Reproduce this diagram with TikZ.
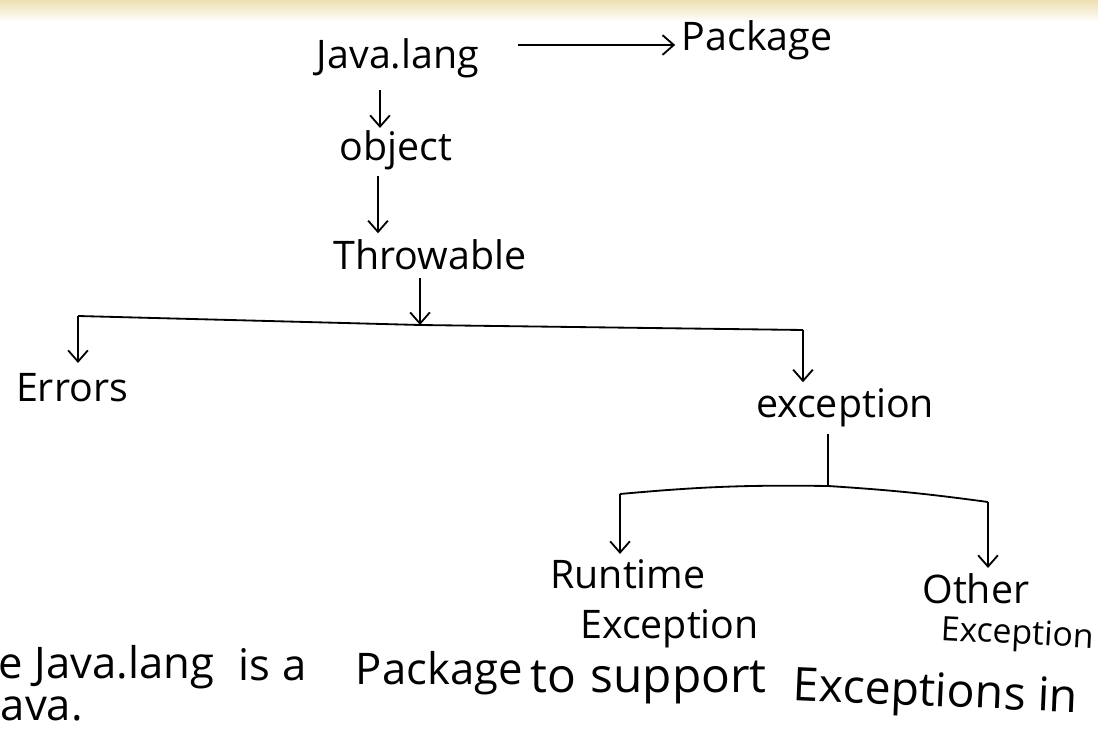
\documentclass[tikz,border=0pt]{standalone}
\usepackage{fontspec}
\setmainfont{Open Sans}
\usetikzlibrary{arrows.meta}

\tikzset{
  hand/.style={font=\fontsize{28}{34}\selectfont, inner sep=1pt},
  note/.style={font=\fontsize{31}{36}\selectfont, inner sep=0pt, anchor=base west},
  down/.style={-{Straight Barb[length=8pt,width=14pt]}},
}

\begin{document}
\begin{tikzpicture}[x=0.025cm, y=-0.025cm, line width=1.3pt]
\useasboundingbox (0,0) rectangle (1098,734);
% paper edge
\shade[top color={rgb,255:red,238;green,224;blue,178}, bottom color=white, draw=none] (0,0) rectangle (1098,22);

% top of the tree
\node[hand] (lang) at (398,58) {Java.lang};
\node[hand] (pkg) at (757,40) {Package};
\node[hand] (obj) at (396,150) {object};
\node[hand] (thr) at (430,255) {Throwable};

\draw[down, shorten <=26pt, shorten >=3pt] (lang.east |- 0,45) -- (pkg.west |- 0,45);
\draw[down] (380,90) -- (obj.north -| 380,0);
\draw[down, shorten <=3pt, shorten >=3pt] (obj.south -| 378,0) -- (thr.north -| 378,0);

% first split
\coordinate (barl) at (78,316);
\coordinate (barm) at (420,325);
\coordinate (barr) at (803,330);
\node[hand] (err) at (72,388) {Errors};
\node[hand] (exc) at (845,408) {exception};

\draw (barl) -- (barm) -- (barr);
\draw[down, shorten <=4pt] (thr.south -| barm) -- (barm);
\draw[down, shorten >=6pt] (barl) -- (err.north -| barl);
\draw[down, shorten >=3pt] (barr) -- (exc.north -| barr);

% second split
\coordinate (cutl) at (620,494);
\coordinate (cutm) at (828,486);
\coordinate (cutr) at (988,502);
\node[hand, anchor=base west] (run) at (548,588) {Runtime};
\node[hand, anchor=base west] (run2) at (578,638) {Exception};
\node[hand, anchor=base west] (oth) at (920,603) {Other};
\node[hand, anchor=base west, font=\fontsize{24}{30}\selectfont, rotate=-3] (oth2) at (938,640) {Exception};

\draw[shorten <=3pt] (exc.south -| cutm) -- (cutm);
\draw (cutl) to[bend left=3] (cutm) to[bend left=2] (cutr);
\draw[down, shorten >=2pt] (cutl) -- (run.north -| cutl);
\draw[down, shorten >=2pt] (cutr) -- (oth.north -| cutr);

% sentence at the bottom
\node[note] (txta) at (-2,678) {e Java.lang};
\node[note] (txtb) at (238,680) {is a};
\node[note] (txtc) at (355,684) {Package};
\node[note, font=\fontsize{34}{38}\selectfont] (txtd) at (530,692) {to\hspace{10pt}support};
\node[note, font=\fontsize{33}{38}\selectfont, rotate=-2.5] (txte) at (792,700) {Exceptions in};
\node[note] (txtf) at (0,720) {ava.};

\end{tikzpicture}
\end{document}
